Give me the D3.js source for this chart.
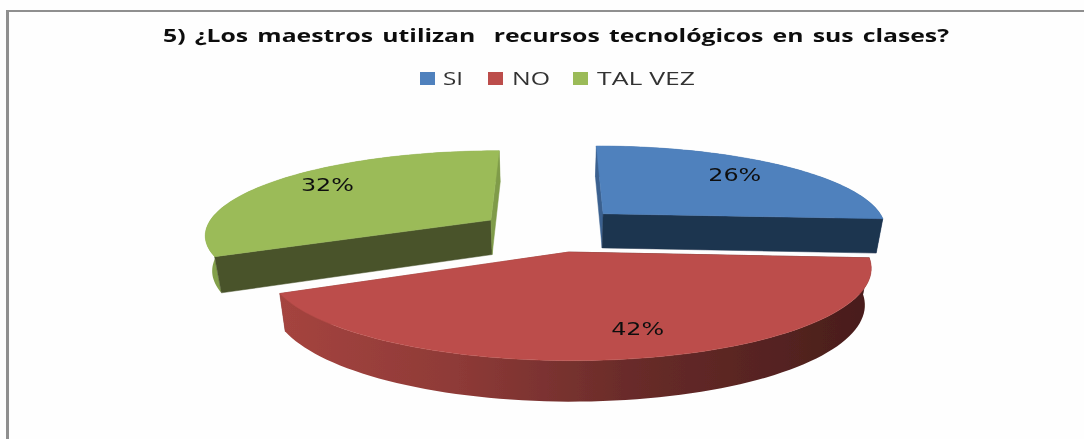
<!DOCTYPE html>
<html><head><meta charset="utf-8">
<script src="https://cdn.jsdelivr.net/npm/d3@7"></script>
<style>html,body{margin:0;padding:0;background:#fff;overflow:hidden}svg{display:block}</style>
</head><body><svg id="c" width="1084" height="439"></svg>
<script>
const categories = ["SI", "NO", "TAL VEZ"];
const values = [26, 42, 32];
const labels = ["26%", "42%", "32%"];
const titleText = "5) ¿Los maestros utilizan  recursos tecnológicos en sus clases?";
const topColors = ["#4f81bd", "#bc4e4b", "#9bbb59"];
const startWallColors = ["#3b618f", "#4a1e1c", "#48522a"];
const endWallColors = ["#1f344f", "#8a3836", "#7f9b49"];
const outerColors = ["#3b618f", "url(#redSide)", "#83a04c"];

// projection of the tilted, exploded pie
const x0 = 552, y0 = 232, R = 287, A = 84, p = 0.16, H = 35, shrink = 0.98;
const explodeX = [53, 16, -62.5], explodeW = [-0.225, 0.23, -0.145];
const labelNudge = [[-5, -2], [19, 1], [0, -5]];
const labelWidth = 53;

function project(i, a, r, bottom) {
  const X = explodeX[i] + R * r * Math.sin(a);
  const w = explodeW[i] - r * Math.cos(a);
  const s = 1 / (1 - p * w);
  const k = bottom ? shrink : 1;
  return [x0 + X * s * k, y0 + A * w * s * k + (bottom ? H * s : 0)];
}
const svg = d3.select("#c");
const line = d3.line();
const defs = svg.append("defs");
const soft = defs.append("filter").attr("id", "soft").attr("x", "-5%").attr("y", "-5%").attr("width", "110%").attr("height", "110%");
soft.append("feGaussianBlur").attr("stdDeviation", 0.4);
const grad = defs.append("linearGradient").attr("id", "redSide")
  .attr("gradientUnits", "userSpaceOnUse").attr("x1", 280).attr("x2", 872).attr("y1", 0).attr("y2", 0);
[[0, "#a5443f"], [0.3, "#8e3a37"], [0.6, "#682b29"], [1, "#481d1b"]].forEach(([o, c]) =>
  grad.append("stop").attr("offset", o).attr("stop-color", c));

// frame
svg.append("rect").attr("width", 1084).attr("height", 439).attr("fill", "#fefefe");
svg.append("rect").attr("x", 6).attr("y", 10).attr("width", 1078).attr("height", 2).attr("fill", "#8f8f8f");
svg.append("rect").attr("x", 6).attr("y", 10).attr("width", 3).attr("height", 429).attr("fill", "#8f8f8f");

const root = svg.append("g").attr("filter", "url(#soft)");

// title
root.append("text").text(titleText).attr("x", 163).attr("y", 42)
  .attr("textLength", 786).attr("lengthAdjust", "spacingAndGlyphs")
  .style("white-space", "pre").style("word-spacing", "2px")
  .attr("font-family", "Open Sans").attr("font-weight", 700).attr("font-size", 18).attr("fill", "#111");

// legend
const swatchX = [420, 488, 573], legendTextX = [443, 512, 597], legendTextW = [20, 38, 98];
categories.forEach((c, i) => {
  root.append("rect").attr("x", swatchX[i]).attr("y", 72).attr("width", 15).attr("height", 13).attr("fill", topColors[i]);
  root.append("text").text(c).attr("x", legendTextX[i]).attr("y", 85)
    .attr("textLength", legendTextW[i]).attr("lengthAdjust", "spacingAndGlyphs")
    .attr("font-family", "Open Sans").attr("font-size", 19).attr("fill", "#333");
});

// slices
const arcs = d3.pie().sort(null).startAngle(0).endAngle(2 * Math.PI)(values);
const samples = (a, b) => d3.range(0, 81).map(t => a + (b - a) * t / 80);
[0, 2, 1].forEach(i => {
  const d = arcs[i];
  const g = root.append("g");
  const arcPts = samples(d.startAngle, d.endAngle);
  const wall = (ang, col) => g.append("path").attr("fill", col).attr("stroke", col).attr("stroke-width", .5)
    .attr("d", line([project(i, ang, 0), project(i, ang, 1), project(i, ang, 1, true), project(i, ang, 0, true)]) + "Z");
  const outer = () => g.append("path").attr("fill", outerColors[i])
    .attr("d", line(arcPts.map(a => project(i, a, 1)).concat(arcPts.slice().reverse().map(a => project(i, a, 1, true)))) + "Z");
  if (i !== 1) outer();
  wall(d.startAngle, startWallColors[i]);
  wall(d.endAngle, endWallColors[i]);
  if (i === 1) outer();
  g.append("path").attr("fill", topColors[i]).attr("stroke", topColors[i]).attr("stroke-width", .5)
    .attr("d", line([project(i, 0, 0)].concat(arcPts.map(a => project(i, a, 1)))) + "Z");
});
// data labels
arcs.forEach((d, i) => {
  const [lx, ly] = project(i, (d.startAngle + d.endAngle) / 2, 0.75);
  root.append("text").text(labels[i])
    .attr("x", lx + labelNudge[i][0] - labelWidth / 2).attr("y", ly + labelNudge[i][1] + 6)
    .attr("textLength", labelWidth).attr("lengthAdjust", "spacingAndGlyphs")
    .attr("font-family", "DejaVu Sans").attr("font-size", 17).attr("fill", "#111");
});
</script></body></html>
